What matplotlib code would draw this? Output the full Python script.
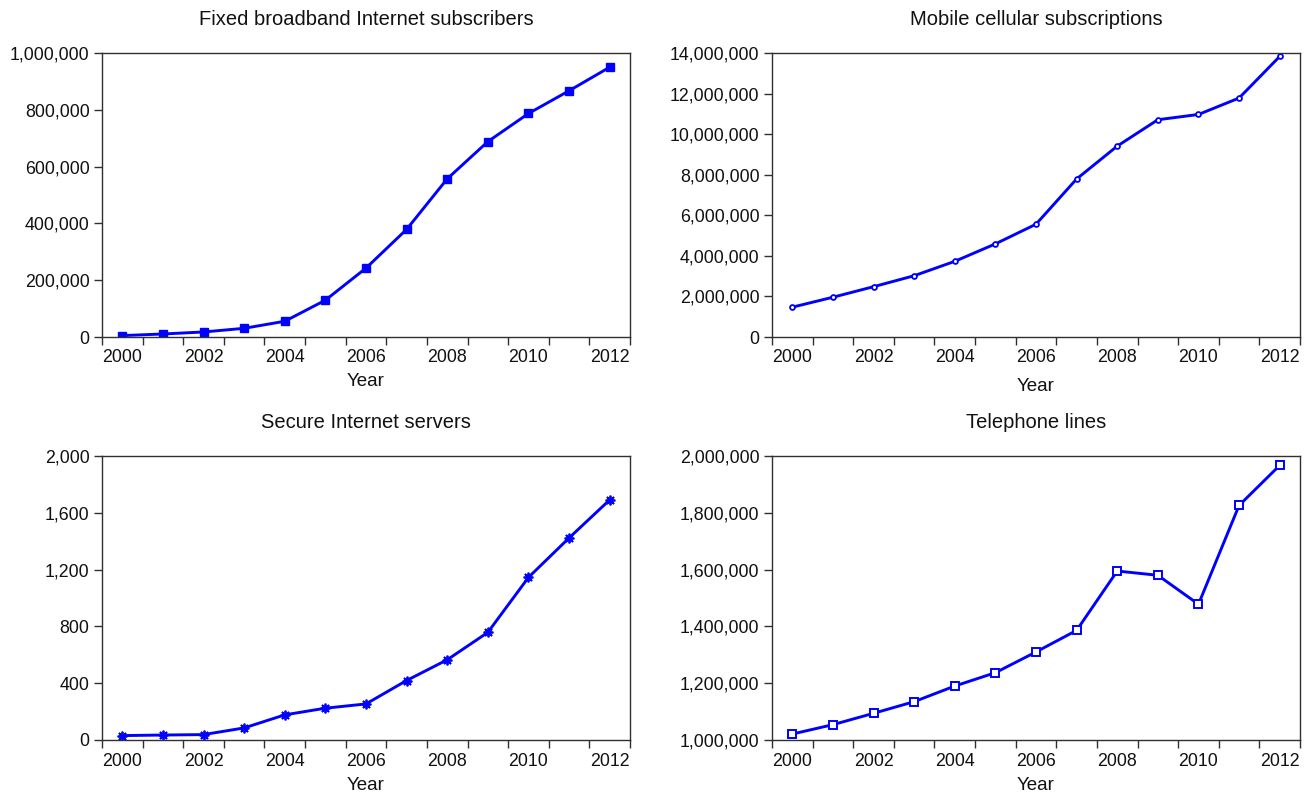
import numpy as np
import matplotlib
matplotlib.use("Agg")
import matplotlib.pyplot as plt
from matplotlib.ticker import FuncFormatter

plt.rcParams["font.family"] = ["Liberation Sans", "DejaVu Sans"]

YEARS = list(range(2000, 2013))

broadband = [5000, 10600, 17700, 30600, 55400, 129600, 242600,
             379000, 557000, 688000, 787000, 867000, 950000]
mobile = [1.47e6, 1.96e6, 2.48e6, 3.02e6, 3.73e6, 4.59e6, 5.56e6,
          7.79e6, 9.41e6, 10.71e6, 10.97e6, 11.78e6, 13.83e6]
servers = [31, 35, 38, 85, 177, 224, 254, 419, 565, 758, 1145, 1423, 1691]
telephone = [1.021e6, 1.054e6, 1.094e6, 1.135e6, 1.190e6, 1.237e6, 1.310e6,
             1.386e6, 1.595e6, 1.580e6, 1.478e6, 1.826e6, 1.967e6]

TITLES = ["Fixed broadband Internet subscribers", "Mobile cellular subscriptions",
          "Secure Internet servers", "Telephone lines"]
YTICKS = [np.arange(0, 1000001, 200000), np.arange(0, 14000001, 2000000),
          np.arange(0, 2001, 400), np.arange(1000000, 2000001, 200000)]
XLABELS = [str(y) for y in range(2000, 2013, 2)]

BLUE = "#0000ff"
AX_COL = "#303030"
TXT = "#111111"

fig = plt.figure(figsize=(13.09, 7.95), dpi=100)

W, H = 1309, 795
boxes = [(102, 53, 630, 337), (772, 53, 1300, 337),
         (102, 456, 630, 740), (772, 456, 1300, 740)]

series = [broadband, mobile, servers, telephone]
markers = [
    dict(marker="s", markersize=5.5, markerfacecolor=BLUE, markeredgecolor=BLUE),
    dict(marker="o", markersize=3.5, markerfacecolor="white", markeredgecolor=BLUE, markeredgewidth=1.3),
    dict(marker=(8, 2, 0), markersize=7, markeredgecolor=BLUE, markeredgewidth=1.3),
    dict(marker="s", markersize=5.5, markerfacecolor="white", markeredgecolor=BLUE, markeredgewidth=1.4),
]
label_pads = [5, 8, 5.5, 5.5]

for i, (l, t, r, b) in enumerate(boxes):
    ax = fig.add_axes([l / W, 1 - b / H, (r - l) / W, (b - t) / H])
    x = np.array(YEARS) + 0.5
    ax.plot(x, series[i], color=BLUE, linewidth=2.1, **markers[i])
    ax.set_xlim(2000, 2013)
    ax.set_ylim(YTICKS[i][0], YTICKS[i][-1])
    ax.set_yticks(YTICKS[i])
    ax.yaxis.set_major_formatter(FuncFormatter(lambda v, p: f"{int(round(v)):,}"))

    # ticks at year boundaries, labels centred in every other year
    ax.set_xticks(range(2000, 2014))
    ax.set_xticklabels([])
    ax.set_xticks([y + 0.5 for y in range(2000, 2013, 2)], minor=True)
    ax.set_xticklabels(XLABELS, minor=True)
    ax.tick_params(axis="both", which="major", direction="out", length=6,
                   width=1, color=AX_COL, labelsize=12.8, labelcolor=TXT)
    ax.tick_params(axis="x", which="minor", length=0, pad=9,
                   labelsize=12.8, labelcolor=TXT)
    ax.tick_params(axis="y", pad=3)

    for s in ax.spines.values():
        s.set_color(AX_COL)
        s.set_linewidth(1.0)

    ax.set_title(TITLES[i], fontsize=14.5, pad=20, color=TXT)
    ax.set_xlabel("Year", fontsize=13.5, labelpad=label_pads[i], color=TXT)

fig.savefig("out.png", dpi=100)
